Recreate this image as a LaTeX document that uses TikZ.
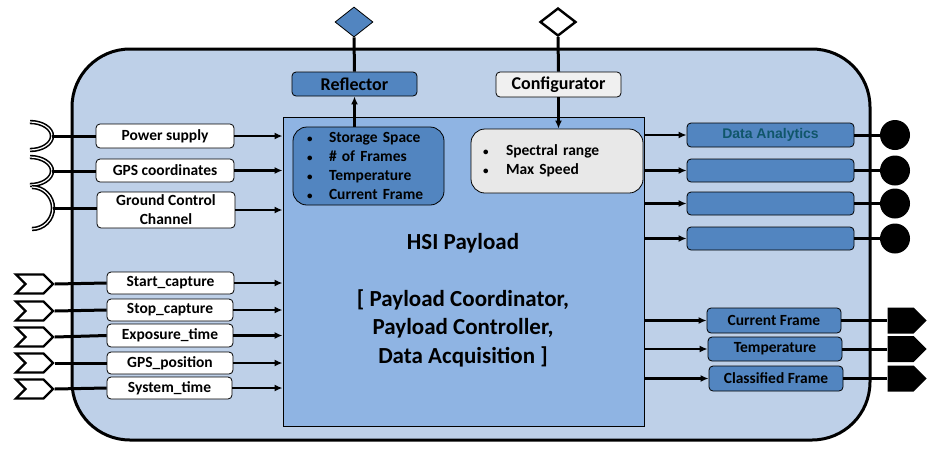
\documentclass[tikz,border=0pt]{standalone}
\usepackage{fontspec}
\setmainfont{Carlito}
\newfontfamily\arialfont{Liberation Sans}
\usetikzlibrary{shapes.geometric,shapes.symbols,arrows.meta}

\definecolor{sysblue}{HTML}{BED0E8}
\definecolor{hsiblue}{HTML}{8FB4E3}
\definecolor{darkblue}{HTML}{5285C0}
\definecolor{specgray}{HTML}{E8E8E8}
\definecolor{confgray}{HTML}{F0F0F0}
\definecolor{tealtext}{HTML}{10566A}

\newcommand{\itembullet}[1]{\makebox[#1][l]{\hspace{2pt}{\fontsize{11}{11}\selectfont\textbullet}}}

\begin{document}
\begin{tikzpicture}[x=1pt,y=-1pt]
		\begin{scope}

		\tikzstyle{sysbox}=[rectangle,
		draw=black,
		line width=3pt,
		fill=sysblue,
		rounded corners=58pt,
		minimum width=798pt,
		minimum height=391pt
		]
		\tikzstyle{hsibox}=[rectangle,
		draw=black,
		line width=1pt,
		fill=hsiblue,
		minimum width=361pt,
		minimum height=309pt
		]
		\tikzstyle{whitebox}=[rectangle,
		rounded corners=4pt,
		draw=black,
		line width=0.8pt,
		fill=white,
		inner sep=0pt,
		align=center,
		font=\bfseries\fontsize{15.5}{19}\selectfont
		]
		\tikzstyle{bluebox}=[whitebox,
		fill=darkblue
		]
		\tikzstyle{listbox}=[rectangle,
		rounded corners=14pt,
		draw=black,
		line width=0.8pt,
		inner sep=0pt,
		align=left,
		font=\bfseries\fontsize{15.5}{19.3}\selectfont
		]
		\tikzstyle{flow}=[line width=2.4pt,
		-{Latex[length=8pt,width=7pt]}
		]
		\tikzstyle{wire}=[line width=3pt]
		\tikzstyle{socket}=[line width=1.6pt,
		double=white,
		double distance=1.2pt
		]
		\tikzstyle{chevron}=[signal,
		signal from=west,
		signal to=east,
		draw=black,
		fill=white,
		line width=2.4pt,
		inner sep=0pt,
		minimum width=37pt,
		minimum height=19pt
		]
		\tikzstyle{plug}=[signal,
		signal to=east,
		fill=black,
		inner sep=0pt,
		minimum width=39pt,
		minimum height=26pt
		]
		\tikzstyle{dot}=[circle,
		fill=black,
		inner sep=0pt,
		minimum size=30pt
		]

		\useasboundingbox (0,0) rectangle (945,448);

		\coordinate (pSys) at (471, 244.5);
		\coordinate (pHsi) at (463.5, 271.5);

		\coordinate (pRefl) at (354.5, 84);
		\coordinate (pConf) at (558.5, 84.5);
		\coordinate (pStore) at (368.5, 166);
		\coordinate (pSpec) at (557, 161);

		\coordinate (sk1) at (52, 136);
		\coordinate (sk2) at (52, 171);
		\coordinate (sk3) at (53, 208);

		% system and payload blocks
		\node[sysbox] (sys) at (pSys) {};
		\node[hsibox] (hsi) at (pHsi) {};
		\node[font=\bfseries\fontsize{23}{28.5}\selectfont, align=center] (hsitext) at (463, 300)
		{HSI Payload\\[28.5pt]{[} Payload Coordinator,\\Payload Controller,\\Data Acquisition ]};

		\node[bluebox, minimum width=125pt, minimum height=24pt, font=\bfseries\fontsize{18}{21}\selectfont] (refl) at (pRefl) {Reflector};
		\node[whitebox, fill=confgray, minimum width=125pt, minimum height=25pt, font=\bfseries\fontsize{18}{21}\selectfont] (conf) at (pConf) {Configurator};
		\node[diamond, draw=black, line width=0.8pt, fill=darkblue, inner sep=0pt, minimum width=38pt, minimum height=30pt] (rdia) at (354, 22) {};
		\node[diamond, draw=black, line width=2.4pt, fill=white, inner sep=0pt, minimum width=36pt, minimum height=28pt] (cdia) at (558, 22) {};

		\node[listbox, fill=darkblue, minimum width=151pt, minimum height=78pt, text width=127pt] (store) at (pStore)
		{\itembullet{24pt}Storage Space\\\itembullet{24pt}\# of Frames\\\itembullet{24pt}Temperature\\\itembullet{24pt}Current Frame};
		\node[listbox, fill=specgray, minimum width=172pt, minimum height=64pt, text width=152pt, font=\bfseries\fontsize{15.5}{18.5}\selectfont] (spec) at (pSpec)
		{\itembullet{25pt}Spectral range\\\itembullet{25pt}Max Speed};

		% inputs on the left
		\node[whitebox, minimum width=138pt, minimum height=24pt] (pwr) at (165, 136) {Power supply};
		\node[whitebox, minimum width=138pt, minimum height=23pt] (gps) at (165, 170.5) {GPS coordinates};
		\node[whitebox, minimum width=138pt, minimum height=36pt] (gnd) at (166, 210) {Ground Control\\Channel};

		\node[whitebox, minimum width=127pt, minimum height=22pt] (start) at (170.5, 283) {Start\_capture};
		\node[whitebox, minimum width=126pt, minimum height=22pt] (stop) at (170, 310) {Stop\_capture};
		\node[whitebox, minimum width=126pt, minimum height=23pt] (expo) at (170, 335.5) {Exposure\_time};
		\node[whitebox, minimum width=126pt, minimum height=22pt] (gpsp) at (170, 363) {GPS\_position};
		\node[whitebox, minimum width=125pt, minimum height=22pt] (syst) at (169.5, 388) {System\_time};

		\node[chevron] (ch1) at (34.5, 284) {};
		\node[chevron] (ch2) at (34.5, 311) {};
		\node[chevron] (ch3) at (34.5, 337) {};
		\node[chevron] (ch4) at (34.5, 363) {};
		\node[chevron] (ch5) at (34.5, 389) {};

		% outputs on the right
		\node[bluebox, minimum width=167pt, minimum height=24pt, font=\arialfont\bfseries\fontsize{14}{17}\selectfont, text=tealtext] (out1) at (770.5, 135) {Data Analytics};
		\node[bluebox, minimum width=167pt, minimum height=23pt] (out2) at (770.5, 170.5) {};
		\node[bluebox, minimum width=167pt, minimum height=23pt] (out3) at (770.5, 203.5) {};
		\node[bluebox, minimum width=167pt, minimum height=23pt] (out4) at (770.5, 238.5) {};

		\node[dot] (dot1) at (895, 135) {};
		\node[dot] (dot2) at (895, 170.5) {};
		\node[dot] (dot3) at (895, 203.5) {};
		\node[dot] (dot4) at (895, 238.5) {};

		\node[bluebox, minimum width=134pt, minimum height=25pt] (cf) at (774, 320.5) {Current Frame};
		\node[bluebox, minimum width=134pt, minimum height=24pt] (temp) at (775, 349) {Temperature};
		\node[bluebox, minimum width=134pt, minimum height=25pt] (cls) at (776, 378.5) {Classified Frame};

		\node[plug] (pl1) at (900.5, 320.5) {};
		\node[plug] (pl2) at (900.5, 349) {};
		\node[plug] (pl3) at (900.5, 378.5) {};

		% sockets
		\draw[socket] (sk1) ++(-22,-14) arc[start angle=-90, end angle=90, x radius=22, y radius=14];
		\draw[socket] (sk2) ++(-22,-14) arc[start angle=-90, end angle=90, x radius=22, y radius=14];
		\draw[socket] (sk3) ++(-21,-21) arc[start angle=-90, end angle=90, x radius=21, y radius=21];

		% connectors
		\draw[wire] (sk1) -- (pwr.west);
		\draw[wire] (sk2) -- (sk2 -| gps.west);
		\draw[wire] (sk3) -- (sk3 -| gnd.west);
		\draw[wire] (ch1.east) -- (start.west);
		\draw[wire] (ch2.east) -- (stop.west);
		\draw[wire] (ch3.east) -- (expo.west);
		\draw[wire] (ch4.east) -- (gpsp.west);
		\draw[wire] (ch5.east) -- (syst.west);

		\draw[flow] (pwr.east) -- (pwr.east -| hsi.west);
		\draw[flow] (gps.east) -- (gps.east -| hsi.west);
		\draw[flow] (gnd.east) -- (gnd.east -| hsi.west);
		\draw[flow] (start.east) -- (start.east -| hsi.west);
		\draw[flow] (stop.east) -- (stop.east -| hsi.west);
		\draw[flow] (expo.east) -- (expo.east -| hsi.west);
		\draw[flow] (gpsp.east) -- (gpsp.east -| hsi.west);
		\draw[flow] (syst.east) -- (syst.east -| hsi.west);

		\draw[wire] (rdia.south) -- (refl.north);
		\draw[wire] (cdia.south) -- (conf.north);
		\draw[flow] (refl.south |- store.north) -- (refl.south);
		\draw[flow] (conf.south) -- (conf.south |- spec.north);

		\draw[flow] (hsi.east |- out1.west) -- (out1.west);
		\draw[flow] (hsi.east |- out2.west) -- (out2.west);
		\draw[flow] (hsi.east |- out3.west) -- (out3.west);
		\draw[flow] (hsi.east |- out4.west) -- (out4.west);
		\draw[flow] (hsi.east |- cf.west) -- (cf.west);
		\draw[flow] (hsi.east |- temp.west) -- (temp.west);
		\draw[flow] (hsi.east |- cls.west) -- (cls.west);

		\draw[wire] (out1.east) -- (dot1.west);
		\draw[wire] (out2.east) -- (dot2.west);
		\draw[wire] (out3.east) -- (dot3.west);
		\draw[wire] (out4.east) -- (dot4.west);
		\draw[wire] (cf.east) -- (pl1.west);
		\draw[wire] (temp.east) -- (pl2.west);
		\draw[wire] (cls.east) -- (pl3.west);

		\end{scope}
\end{tikzpicture}
\end{document}
